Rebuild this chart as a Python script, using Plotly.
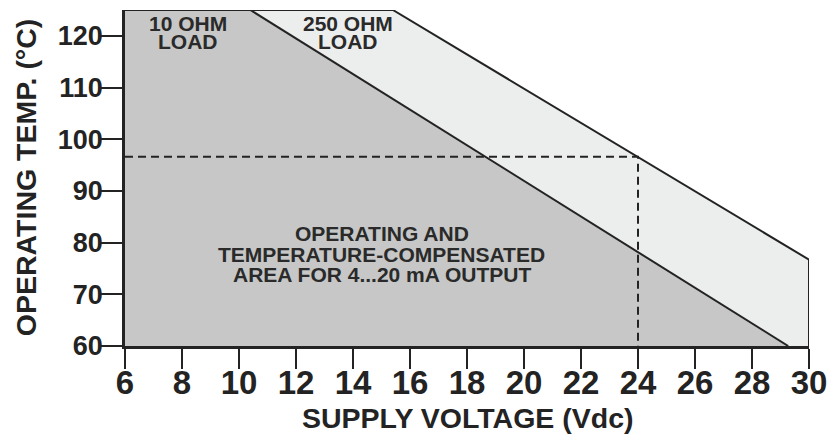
import plotly.graph_objects as go

# Data
x_ticks = [6, 8, 10, 12, 14, 16, 18, 20, 22, 24, 26, 28, 30]
y_ticks = [60, 70, 80, 90, 100, 110, 120]

# 10 ohm load limit line (supply voltage, temperature)
v10 = [10.4, 29.27]
t10 = [125, 60]
# 250 ohm load limit line
v250 = [15.4, 30]
t250 = [125, 76.7]
# operating point marked by dashed lines
op_v = 24
op_t = 96.6

x_min, x_max = 6, 30
y_min, y_max = 60, 125

FONT = "Liberation Sans, Arial, Helvetica, sans-serif"
INK = "#232323"
DARK = "#c6c7c6"
LIGHT = "#eceeed"

fig = go.Figure()

# light (250 ohm) region
fig.add_trace(go.Scatter(
    x=[x_min, v250[0], v250[1], x_max, x_min, x_min],
    y=[y_max, t250[0], t250[1], y_min, y_min, y_max],
    fill="toself", fillcolor=LIGHT, mode="lines", line=dict(width=0),
    hoverinfo="skip", showlegend=False))
# dark (10 ohm) region
fig.add_trace(go.Scatter(
    x=[x_min, v10[0], v10[1], x_min, x_min],
    y=[y_max, t10[0], t10[1], y_min, y_max],
    fill="toself", fillcolor=DARK, mode="lines", line=dict(width=0),
    hoverinfo="skip", showlegend=False))

# dashed lines
fig.add_trace(go.Scatter(
    x=[x_min, op_v, op_v], y=[op_t, op_t, y_min],
    mode="lines", line=dict(color=INK, width=2, dash="8px,5px"),
    hoverinfo="skip", showlegend=False, cliponaxis=False))

# outlines
fig.add_trace(go.Scatter(
    x=[x_min, v250[0], v250[1], x_max, x_max],
    y=[y_max, t250[0], t250[1], t250[1], y_min],
    mode="lines", line=dict(color=INK, width=2),
    hoverinfo="skip", showlegend=False, cliponaxis=False))
fig.add_trace(go.Scatter(
    x=v10, y=t10, mode="lines", line=dict(color=INK, width=2),
    hoverinfo="skip", showlegend=False, cliponaxis=False))

ann_font = dict(family=FONT, size=21, color="#2a2a2a", weight="bold")
labels = [
    (8.21, 122.4, "10 OHM"), (8.21, 118.9, "LOAD"),
    (13.81, 122.4, "250 OHM"), (13.81, 118.9, "LOAD"),
    (15.01, 81.85, "OPERATING AND"),
    (15.01, 77.7, "TEMPERATURE-COMPENSATED"),
    (15.01, 73.8, "AREA FOR 4...20 mA OUTPUT"),
]
for x, y, t in labels:
    fig.add_annotation(x=x, y=y, text=t, showarrow=False, font=ann_font,
                       xanchor="center", yanchor="middle")

title_font = dict(family=FONT, size=28.5, color=INK, weight="bold")
fig.add_annotation(xref="paper", yref="paper", x=0.5015, y=-0.215,
                   text="SUPPLY VOLTAGE (Vdc)", showarrow=False, font=title_font,
                   xanchor="center", yanchor="middle")
fig.add_annotation(xref="paper", yref="paper", x=-0.1447, y=0.5025,
                   text="OPERATING TEMP. (°C)", showarrow=False, font=title_font,
                   textangle=-90, xanchor="center", yanchor="middle")

fig.update_layout(
    width=833, height=439, autosize=False,
    margin=dict(l=125, r=24, t=10, b=93),
    plot_bgcolor="white", paper_bgcolor="white",
    showlegend=False,
    xaxis=dict(
        range=[x_min, x_max], tickvals=x_ticks, ticktext=[str(v) for v in x_ticks],
        ticks="outside", ticklen=20, tickwidth=2, tickcolor=INK,
        showline=True, linecolor=INK, linewidth=2.5, showgrid=False, zeroline=False,
        tickfont=dict(family=FONT, size=33, color=INK, weight="bold"),
        ticklabelstandoff=-14, automargin=False,
    ),
    yaxis=dict(
        range=[y_min, y_max], tickvals=y_ticks, ticktext=[str(v) for v in y_ticks],
        ticks="outside", ticklen=21, tickwidth=2, tickcolor=INK,
        showline=True, linecolor=INK, linewidth=2.5, showgrid=False, zeroline=False,
        tickfont=dict(family=FONT, size=27, color=INK, weight="bold"),
        ticklabelstandoff=-7, automargin=False,
    ),
)

fig.write_html(
    "out.html",
    config={"displayModeBar": False},
    post_script="document.body.style.margin='0px';document.body.style.overflow='hidden';",
)
